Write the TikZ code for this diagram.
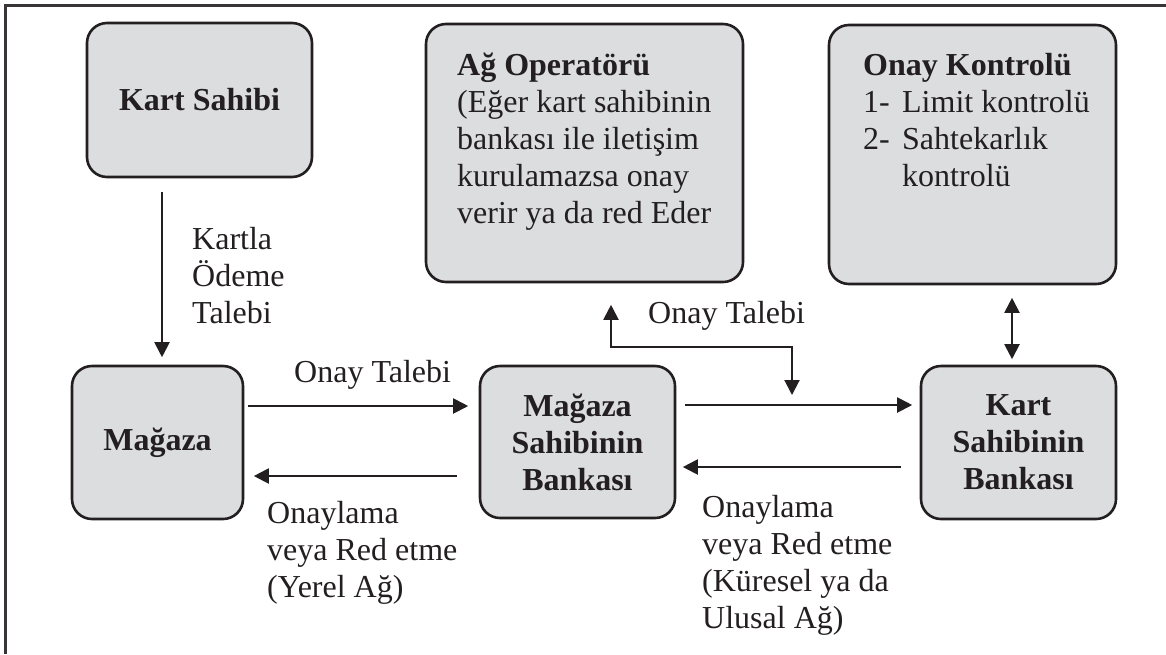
\documentclass[tikz,border=0pt]{standalone}
\usepackage{fontspec}
\setmainfont{Liberation Serif}
\usetikzlibrary{arrows.meta,calc}
\definecolor{ink}{HTML}{231F20}
\definecolor{boxfill}{HTML}{DCDDDF}
\begin{document}
\begin{tikzpicture}[x=1pt,y=-1pt,
  every node/.style={text=ink},
  txt/.style={font=\fontsize{32}{37}\selectfont, inner sep=0pt, align=left},
  bx/.style={draw=ink, fill=boxfill, line width=2.6pt, rounded corners=20pt,
    font=\fontsize{32}{37}\selectfont\bfseries, align=center, inner sep=0pt},
  arr/.style={draw=ink, line width=2pt, -{Triangle[length=15pt,width=15pt]}},
  dbl/.style={draw=ink, line width=2pt, {Triangle[length=15pt,width=15pt]}-{Triangle[length=15pt,width=15pt]}}
]
\useasboundingbox (0,0) rectangle (1166,654);
% frame
\draw[line width=3pt, draw=ink!90] (5,654) -- (5,5.5) -- (1166,5.5);

% boxes
\node[bx, minimum width=225pt, minimum height=154pt] (ks) at (199.5,100) {Kart Sahibi};
\node[bx, minimum width=171pt, minimum height=153pt] (mg) at (157.5,442.5) {Mağaza};
\node[bx, minimum width=195pt, minimum height=152pt] (msb) at (577.5,442) {Mağaza\\Sahibinin\\Bankası};
\node[bx, minimum width=195pt, minimum height=153pt] (ksb) at (1018.5,442.5) {Kart\\Sahibinin\\Bankası};
\node[bx, minimum width=317pt, minimum height=258pt] (ag) at (584.5,153) {};
\node[bx, minimum width=287pt, minimum height=259pt] (ok) at (972.5,154.5) {};

% box texts (base = baseline of last line)
\node[txt, anchor=base west] (agt) at (457,223) {\textbf{Ağ Operatörü}\\(Eğer kart sahibinin\\bankası ile iletişim\\kurulamazsa onay\\verir ya da red Eder};
\node[txt, anchor=base west] (okt) at (863,186) {\textbf{Onay Kontrolü}\\\makebox[39pt][l]{1-}Limit kontrolü\\\makebox[39pt][l]{2-}Sahtekarlık\\\hspace*{39pt}kontrolü};

% connectors
\draw[arr, shorten <=13.5pt, shorten >=7.5pt] ([xshift=-37.5pt]ks.south) -- ([xshift=4.5pt]mg.north);
\draw[arr, shorten <=3.5pt, shorten >=10.5pt] (mg.east |- 0,406) -- (msb.west |- 0,406);
\draw[arr, shorten <=21.5pt, shorten >=9.5pt] (msb.west |- 0,476) -- (mg.east |- 0,476);
\draw[arr, shorten <=8.5pt, shorten >=7.5pt] (msb.east |- 0,405) -- (ksb.west |- 0,405);
\draw[arr, shorten <=18.5pt, shorten >=6.5pt] (ksb.west |- 0,467) -- (msb.east |- 0,467);
\draw[dbl, shorten <=12.5pt, shorten >=5.5pt] ([xshift=39.5pt]ok.south) -- ([xshift=-6.5pt]ksb.north);
\coordinate (tq) at (792,395);
\draw[dbl, shorten <=21.5pt] ([xshift=26.5pt]ag.south) |- (tq |- 0,347) -- (tq);

% labels
\node[txt, anchor=base west] (l1) at (192,323) {Kartla\\Ödeme\\Talebi};
\node[txt, anchor=base west] (l2) at (294,382) {Onay Talebi};
\node[txt, anchor=base west] (l3) at (267,597) {Onaylama\\veya Red etme\\(Yerel Ağ)};
\node[txt, anchor=base west] (l4) at (648,323) {Onay Talebi};
\node[txt, anchor=base west] (l5) at (702,628) {Onaylama\\veya Red etme\\(Küresel ya da\\Ulusal Ağ)};
\end{tikzpicture}
\end{document}
